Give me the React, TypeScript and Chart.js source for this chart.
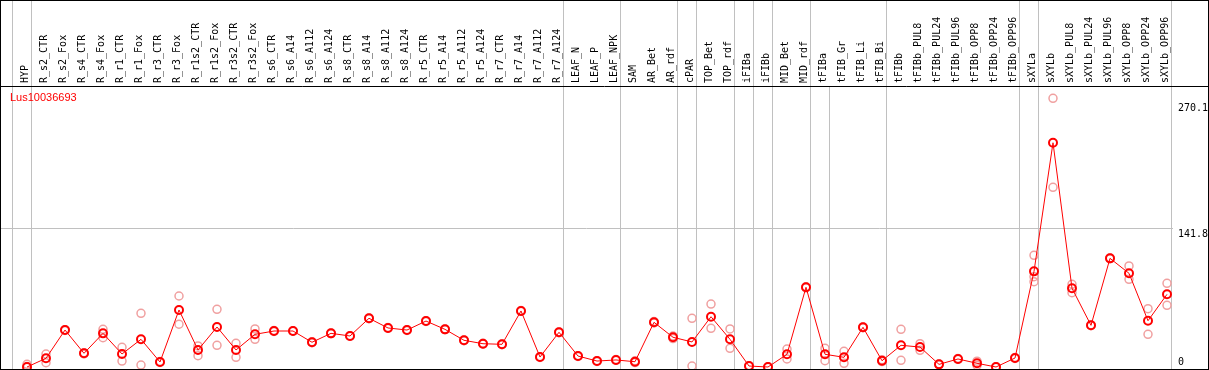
import React, { useEffect, useRef } from 'react';
import { Chart, registerables } from 'chart.js';

Chart.register(...registerables);

const geneTitle = 'Lus10036693';

const categories = [
  'HYP', 'R_s2_CTR', 'R_s2_Fox', 'R_s4_CTR', 'R_s4_Fox', 'R_r1_CTR', 'R_r1_Fox', 'R_r3_CTR', 'R_r3_Fox',
  'R_r1s2_CTR', 'R_r1s2_Fox', 'R_r3s2_CTR', 'R_r3s2_Fox', 'R_s6_CTR', 'R_s6_A14', 'R_s6_A112', 'R_s6_A124',
  'R_s8_CTR', 'R_s8_A14', 'R_s8_A112', 'R_s8_A124', 'R_r5_CTR', 'R_r5_A14', 'R_r5_A112', 'R_r5_A124',
  'R_r7_CTR', 'R_r7_A14', 'R_r7_A112', 'R_r7_A124', 'LEAF_N', 'LEAF_P', 'LEAF_NPK', 'SAM', 'AR_Bet', 'AR_rdf',
  'cPAR', 'TOP_Bet', 'TOP_rdf', 'iFIBa', 'iFIBb', 'MID_Bet', 'MID_rdf', 'tFIBa', 'tFIB_Gr', 'tFIB_Li', 'tFIB_Bi',
  'tFIBb', 'tFIBb_PUL8', 'tFIBb_PUL24', 'tFIBb_PUL96', 'tFIBb_OPP8', 'tFIBb_OPP24', 'tFIBb_OPP96',
  'sXYLa', 'sXYLb', 'sXYLb_PUL8', 'sXYLb_PUL24', 'sXYLb_PUL96', 'sXYLb_OPP8', 'sXYLb_OPP24', 'sXYLb_OPP96',
];

const meanValues = [
  0, 8.9, 37.8, 14.0, 34.4, 13.3, 28.3, 5.1, 58.3,
  17.4, 40.9, 17.4, 33.4, 36.8, 36.8, 25.3, 34.4,
  31.7, 49.8, 39.9, 37.8, 47.0, 38.5, 27.3, 23.8,
  23.2, 57.3, 10.2, 35.5, 11.2, 6.1, 7.2, 5.4, 45.7, 30.4,
  25.6, 51.4, 28.3, 1.0, 0, 13.0, 81.5, 13.0, 9.9, 40.6, 6.4,
  22.2, 20.4, 2.7, 8.2, 3.8, 0, 9.2,
  97.8, 229.3, 80.5, 42.6, 111.1, 95.8, 47.3, 74.3,
];

const replicateA = [
  2.7, 13.3, 38.2, 14.5, 38.5, 20.1, 54.9, 5.5, 72.6,
  21.5, 59.0, 24.2, 38.9, 37.2, 37.0, 25.8, 34.8,
  32.0, 50.2, 40.3, 38.2, 47.4, 38.9, 27.7, 24.2,
  23.6, 57.7, 10.6, 35.9, 11.6, 6.5, 7.6, 4.5, 46.5, 31.7,
  49.8, 64.4, 38.9, 1.3, 0.2, 18.4, 82.0, 19.1, 16.1, 41.0, 5.5,
  38.5, 23.8, 3.0, 8.6, 6.0, 0.3, 9.6,
  114.2, 274.7, 84.6, 43.0, 111.5, 103.3, 59.6, 85.6,
];

const replicateB = [
  0.5, 4.4, 37.4, 13.5, 30.0, 6.1, 2.0, 4.7, 43.7,
  11.6, 22.2, 9.9, 28.3, 36.4, 36.6, 24.8, 34.0,
  31.4, 49.4, 39.5, 37.4, 46.6, 38.1, 26.9, 23.4,
  22.8, 56.9, 9.8, 35.1, 10.8, 5.7, 6.8, 6.3, 45.0, 29.1,
  1.0, 39.6, 19.1, 0.7, 0, 8.2, 81.0, 6.4, 3.8, 40.2, 7.3,
  6.8, 17.0, 2.4, 7.8, 1.6, 0, 8.8,
  87.2, 183.7, 76.0, 42.2, 110.7, 89.7, 33.4, 63.1,
];

// third replicate only read for sXYLa
const replicateC = categories.map((c) => (c === 'sXYLa' ? 92.3 : null));

const yTickValues = [0, 141.8, 270.1];
const yTickLabels = ['0', '141.8', '270.1'];
const yMax = 286.3;

// group separators drawn after these category indices
const groupBreaks = [-1, 0, 28, 31, 34, 35, 37, 38, 39, 41, 42, 45, 52, 53, 60];
const plotOnlyBreaks = [42];

const toPoints = (arr: (number | null)[]) =>
  arr.map((v, i) => ({ x: i, y: v as any }));

const framePlugin = {
  id: 'framePlugin',
  beforeDatasetsDraw(chart: any) {
    const ctx = chart.ctx;
    const xs = chart.scales.x;
    const ys = chart.scales.y;
    ctx.save();
    ctx.strokeStyle = '#c0c0c0';
    ctx.lineWidth = 1;
    // separators
    groupBreaks.forEach((b) => {
      const x = Math.round(xs.getPixelForValue(b + 0.2)) + 0.5;
      const top = plotOnlyBreaks.includes(b) ? 87 : 0;
      ctx.beginPath();
      ctx.moveTo(x, top);
      ctx.lineTo(x, 369);
      ctx.stroke();
    });
    // mid gridline
    const gy = Math.round(ys.getPixelForValue(yTickValues[1])) + 0.5;
    ctx.beginPath();
    ctx.moveTo(0, gy);
    ctx.lineTo(1173, gy);
    ctx.stroke();
    ctx.restore();
  },
  afterDraw(chart: any) {
    const ctx = chart.ctx;
    const xs = chart.scales.x;
    const ys = chart.scales.y;
    ctx.save();
    // header labels
    ctx.fillStyle = '#000';
    ctx.font = '10px "DejaVu Sans Mono", monospace';
    ctx.textAlign = 'left';
    ctx.textBaseline = 'middle';
    categories.forEach((c, i) => {
      const x = xs.getPixelForValue(i) - 1.5;
      ctx.save();
      ctx.translate(x, 83);
      ctx.rotate(-Math.PI / 2);
      ctx.fillText(c, 0, 0);
      ctx.restore();
    });
    // y tick labels
    yTickValues.forEach((v, k) => {
      const y = ys.getPixelForValue(v);
      if (v === 0) {
        ctx.textBaseline = 'bottom';
        ctx.fillText(yTickLabels[k], 1178, y);
      } else {
        ctx.textBaseline = 'top';
        ctx.fillText(yTickLabels[k], 1178, y + 1);
      }
    });
    // title
    ctx.fillStyle = '#ff0000';
    ctx.font = '11px "Liberation Sans", Arial, sans-serif';
    ctx.textBaseline = 'alphabetic';
    ctx.fillText(geneTitle, 10, 101);
    // borders
    ctx.strokeStyle = '#000';
    ctx.lineWidth = 1;
    ctx.strokeRect(0.5, 0.5, 1208, 369);
    ctx.beginPath();
    ctx.moveTo(0, 86.5);
    ctx.lineTo(1209, 86.5);
    ctx.stroke();
    ctx.restore();
  },
};

export default function App() {
  const ref = useRef<HTMLCanvasElement>(null);
  useEffect(() => {
    document.body.style.margin = '0';
    const repStyle = {
      showLine: false,
      pointRadius: 4,
      pointBorderWidth: 1.5,
      pointBorderColor: '#f0a0a0',
      pointBackgroundColor: 'rgba(0,0,0,0)',
      clip: false as any,
    };
    const chart = new Chart(ref.current!, {
      type: 'line',
      data: {
        datasets: [
          {
            data: toPoints(meanValues),
            borderColor: '#ff0000',
            borderWidth: 1,
            pointRadius: 4,
            pointBorderWidth: 2,
            pointBorderColor: '#ff0000',
            pointBackgroundColor: 'rgba(0,0,0,0)',
            tension: 0,
            clip: false as any,
          },
          { data: toPoints(replicateA), ...repStyle },
          { data: toPoints(replicateB), ...repStyle },
          { data: toPoints(replicateC), ...repStyle },
        ],
      },
      options: {
        responsive: false,
        animation: false,
        layout: { autoPadding: false, padding: { left: 0, right: 37, top: 87, bottom: 3 } },
        scales: {
          x: { type: 'linear', min: -27 / 19, max: (1172 - 27) / 19, display: false },
          y: { type: 'linear', min: 0, max: yMax, display: false },
        },
        plugins: { legend: { display: false }, tooltip: { enabled: false } },
        events: [],
      },
      plugins: [framePlugin],
    });
    return () => chart.destroy();
  }, []);
  return (
    <div style={{ position: 'fixed', left: 0, top: 0, width: 1209, height: 370, background: '#fff' }}>
      <canvas ref={ref} width={1209} height={370} style={{ display: 'block' }} />
    </div>
  );
}
